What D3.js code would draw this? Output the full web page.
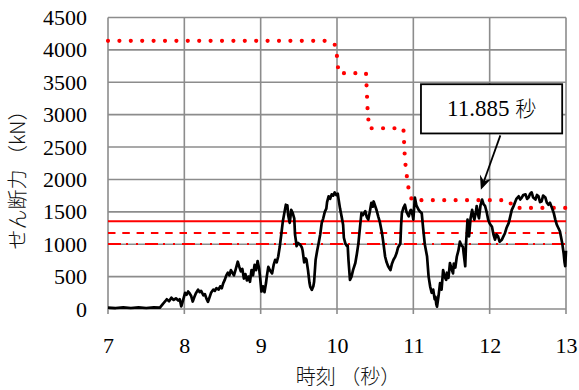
<!DOCTYPE html>
<html><head><meta charset="utf-8">
<script src="https://cdn.jsdelivr.net/npm/d3@7"></script>
<style>body{margin:0;background:#fff}svg{display:block}</style>
</head><body>
<svg id="chart" width="579" height="390"></svg>
<script>
// ---- data ----
const xTicks = [7, 8, 9, 10, 11, 12, 13];
const yTicks = [0, 500, 1000, 1500, 2000, 2500, 3000, 3500, 4000, 4500];
const shearTime = [7.00,7.10,7.20,7.30,7.40,7.50,7.60,7.68,
7.72,7.75,7.77,7.80,7.83,7.86,7.89,7.92,7.94,7.96,7.98,8.01,8.03,8.05,8.07,8.09,8.11,8.13,8.15,8.18,8.20,8.22,8.25,8.27,8.29,8.31,8.33,8.35,8.38,8.40,8.42,8.45,8.47,8.49,8.51,8.53,8.55,8.57,8.59,8.61,8.63,8.65,8.67,8.70,8.72,8.74,8.76,8.78,8.80,8.82,8.84,8.86,8.88,8.90,8.92,8.94,8.96,8.98,8.99,9.00,
9.01,9.03,9.05,9.07,9.08,9.10,9.12,9.15,9.17,9.19,9.21,9.23,9.25,9.27,9.29,9.31,9.33,9.34,9.35,9.36,9.38,9.39,9.40,9.42,9.44,9.45,9.46,9.47,9.49,9.52,9.54,9.55,9.57,9.59,9.60,9.62,9.64,9.65,9.67,9.69,9.70,9.72,9.74,9.76,9.78,9.80,9.82,9.84,9.86,9.87,9.89,9.91,9.93,9.95,9.97,9.99,
10.01,10.02,10.04,10.06,10.08,10.09,10.11,10.13,10.14,10.15,10.17,10.19,10.21,10.24,10.26,10.28,10.30,10.32,10.34,10.37,10.39,10.41,10.43,10.45,10.47,10.48,10.50,10.52,10.54,10.56,10.59,10.61,10.63,10.65,10.67,10.69,10.70,10.72,10.74,10.76,10.78,10.80,10.83,10.84,10.85,10.87,10.89,10.91,10.94,10.96,10.97,10.99,
11.00,11.01,11.02,11.04,11.07,11.09,11.11,11.13,11.15,11.18,11.20,11.22,11.24,11.26,11.28,11.29,11.30,11.31,11.33,11.35,11.37,11.39,11.41,11.43,11.44,11.46,11.48,11.50,11.52,11.53,11.55,11.57,11.59,11.61,11.63,11.65,11.66,11.68,11.69,11.71,11.72,11.73,11.75,11.77,11.79,11.80,11.82,11.83,11.85,11.86,11.88,11.90,11.92,11.94,11.96,11.98,
12.00,12.03,12.05,12.07,12.09,12.11,12.13,12.16,12.18,12.20,12.22,12.25,12.27,12.29,12.31,12.33,12.35,12.38,12.40,12.42,12.44,12.47,12.49,12.51,12.53,12.55,12.57,12.60,12.62,12.64,12.66,12.68,12.70,12.73,12.75,12.77,12.79,12.81,12.84,12.86,12.88,12.90,12.92,12.95,12.97,12.98,12.99,13.00];
const shearValue = [20,15,25,15,25,15,25,20,
80,120,150,120,175,140,165,130,150,40,120,250,220,270,240,200,115,180,240,300,260,280,210,230,160,110,180,250,300,280,320,300,350,320,400,450,520,560,520,600,560,520,600,730,650,580,620,470,540,440,500,420,600,520,680,600,740,620,520,400,
270,350,260,400,500,650,600,550,680,760,720,810,960,1150,1350,1480,1610,1560,1600,1450,1330,1420,1530,1480,1400,1150,1070,970,1020,990,950,900,720,780,760,600,400,340,295,350,420,760,900,1020,1150,1330,1400,1500,1550,1650,1740,1700,1770,1750,1800,1760,
1780,1700,1550,1430,1300,1100,1010,970,980,760,450,500,600,710,850,1010,1250,1480,1450,1510,1420,1380,1500,1640,1580,1660,1590,1520,1430,1350,1170,1000,810,720,660,620,600,700,760,800,860,950,1010,1300,1480,1560,1610,1500,1430,1520,1530,1450,
1380,1550,1720,1600,1530,1500,1480,1230,1000,810,500,350,250,300,150,190,80,35,200,400,300,600,500,450,560,480,710,620,550,700,640,810,900,1040,980,960,850,660,1000,1380,1250,1120,1400,1530,1420,1380,1500,1590,1450,1400,1600,1690,1620,1590,1500,1380,
1320,1270,1150,1070,1150,1120,1040,1070,1120,1170,1250,1330,1430,1530,1580,1640,1700,1740,1690,1720,1760,1770,1700,1720,1780,1800,1720,1690,1760,1740,1650,1660,1750,1720,1640,1610,1640,1580,1480,1380,1300,1250,1200,1020,850,730,660,900];
const capTime = [7.00,9.90,9.97,10.00,10.02,10.38,10.40,10.42,10.87,10.89,10.93,10.98,12.25,12.31,13.00];
const capValue = [4140,4140,4080,3900,3640,3640,3100,2790,2790,2300,1900,1680,1680,1560,1560];
const refLevels = [1355, 1172, 1005];
const refDash = [null, "7.5,6.8", "13,5,2,8,2,7"];
const annotText = "11.885";
const annotUnit = "秒";
const annotTime = 11.885;
const xTitle = "時刻 （秒）";
const yTitle = "せん断力 （kN）";

// ---- layout ----
const svg = d3.select("#chart");
const L = 108, R = 566, T = 17.5, B = 309;
const x = d3.scaleLinear().domain([7, 13]).range([L, R]);
const y = d3.scaleLinear().domain([0, 4500]).range([B, T]);
const grid = "#8c8c8c";
const serif = "Liberation Serif";
const jp = "Noto Sans CJK JP";

// gridlines
svg.append("g").selectAll("line").data(yTicks).join("line")
  .attr("x1", L).attr("x2", R).attr("y1", d => y(d)).attr("y2", d => y(d))
  .attr("stroke", grid).attr("stroke-width", 1.6);
svg.append("g").selectAll("line").data(xTicks).join("line")
  .attr("x1", d => x(d)).attr("x2", d => x(d)).attr("y1", T).attr("y2", B + 5)
  .attr("stroke", grid).attr("stroke-width", 1.6);

// axes labels
const xAxis = svg.append("g").attr("transform", `translate(0,${B})`)
  .call(d3.axisBottom(x).tickValues(xTicks).tickSize(0).tickPadding(28).tickFormat(d3.format("d")))
  .attr("font-family", serif).attr("font-size", 22);
xAxis.select(".domain").remove();
xAxis.selectAll("text").style("font-family", serif).style("font-size", "22px").attr("fill", "#000");
const yAxis = svg.append("g").attr("transform", `translate(${L},0)`)
  .call(d3.axisLeft(y).tickValues(yTicks).tickSize(0).tickPadding(21).tickFormat(d3.format("d")))
  .attr("font-family", serif).attr("font-size", 22);
yAxis.select(".domain").remove();
yAxis.selectAll("text").style("font-family", serif).style("font-size", "22px").attr("fill", "#000");

// reference lines
svg.append("g").selectAll("line").data(refLevels).join("line")
  .attr("x1", L).attr("x2", R).attr("y1", d => y(d)).attr("y2", d => y(d))
  .attr("stroke", "#ff0000").attr("stroke-width", 2)
  .attr("stroke-dasharray", (d, i) => refDash[i]);

// capacity dotted step line
const capData = capTime.map((t, i) => [t, capValue[i]]);
svg.append("path").datum(capData)
  .attr("d", d3.line().x(d => x(d[0])).y(d => y(d[1])))
  .attr("fill", "none").attr("stroke", "#ff0000").attr("stroke-width", 4.2)
  .attr("stroke-linecap", "round").attr("stroke-dasharray", "0,11.4");

// shear time history
const shearData = shearTime.map((t, i) => [t, shearValue[i]]);
svg.append("path").datum(shearData)
  .attr("d", d3.line().x(d => x(d[0])).y(d => y(d[1])))
  .attr("fill", "none").attr("stroke", "#000").attr("stroke-width", 2.7)
  .attr("stroke-linejoin", "round");

// annotation
const bx0 = x(11.10), bx1 = x(12.95), by0 = y(3470), by1 = y(2710);
svg.append("rect").attr("x", bx0).attr("y", by0).attr("width", bx1 - bx0).attr("height", by1 - by0)
  .attr("fill", "#fff").attr("stroke", "#000").attr("stroke-width", 1.8);
const at = svg.append("text").attr("x", (bx0 + bx1) / 2).attr("y", by0 + 32)
  .attr("text-anchor", "middle").attr("fill", "#000");
at.append("tspan").style("font-family", serif).style("font-size", "23px").text(annotText + " ");
at.append("tspan").style("font-family", jp).style("font-size", "21px").style("font-weight", 300).text(annotUnit);

// arrow
const ax0 = x(12.14), ay0 = y(2680), ax1 = x(annotTime), ay1 = y(1840);
const ang = Math.atan2(ay1 - ay0, ax1 - ax0);
const hl = 14, hw = 6;
svg.append("line").attr("x1", ax0).attr("y1", ay0)
  .attr("x2", ax1 - Math.cos(ang) * 8).attr("y2", ay1 - Math.sin(ang) * 8)
  .attr("stroke", "#000").attr("stroke-width", 1.8);
const bxp = ax1 - Math.cos(ang) * hl, byp = ay1 - Math.sin(ang) * hl;
svg.append("path")
  .attr("d", `M${ax1},${ay1}L${bxp - Math.sin(ang) * hw},${byp + Math.cos(ang) * hw}L${ax1 - Math.cos(ang) * 9},${ay1 - Math.sin(ang) * 9}L${bxp + Math.sin(ang) * hw},${byp - Math.cos(ang) * hw}Z`)
  .attr("fill", "#000");

// axis titles
svg.append("text").attr("x", 348).attr("y", 384).attr("text-anchor", "middle")
  .style("font-family", jp).style("font-size", "20px").style("font-weight", 300).attr("fill", "#111").text(xTitle);
svg.append("text").attr("transform", "translate(25,175) rotate(-90)").attr("text-anchor", "middle")
  .style("font-family", jp).style("font-size", "20px").style("font-weight", 300).attr("fill", "#111").text(yTitle);
</script>
</body></html>
